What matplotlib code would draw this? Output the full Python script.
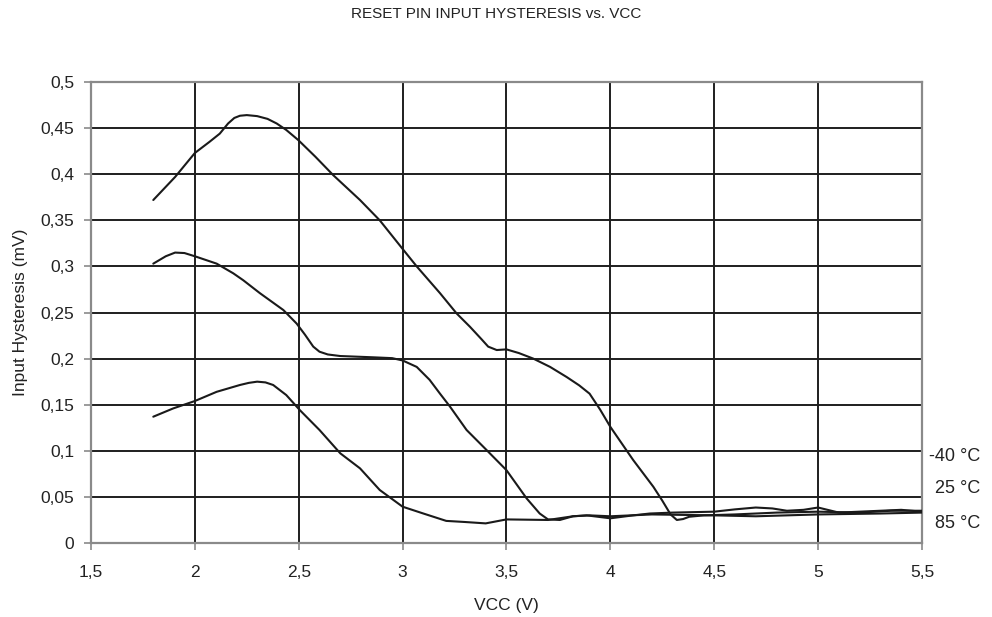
import matplotlib
matplotlib.use('Agg')
import matplotlib.pyplot as plt
from matplotlib.ticker import FuncFormatter

plt.rcParams['font.family'] = ['Liberation Sans', 'DejaVu Sans']

# -40 C curve
vcc_m40 = [1.80, 1.905, 2.0, 2.07, 2.12, 2.16, 2.19, 2.217, 2.25, 2.30, 2.35, 2.394, 2.44, 2.498,
           2.58, 2.666, 2.795, 2.89, 3.0, 3.068, 3.18, 3.26, 3.324, 3.38, 3.412, 3.453, 3.50,
           3.56, 3.629, 3.71, 3.79, 3.85, 3.90, 3.95, 4.0, 4.11, 4.207, 4.25, 4.29, 4.32, 4.35,
           4.38, 4.45, 4.6, 4.8, 5.0, 5.2, 5.35, 5.5]
hyst_m40 = [0.372, 0.397, 0.423, 0.435, 0.444, 0.455, 0.461, 0.4634, 0.4641, 0.463, 0.460, 0.455,
            0.448, 0.437, 0.419, 0.399, 0.372, 0.350, 0.319, 0.300, 0.271, 0.249, 0.2346, 0.221,
            0.213, 0.2093, 0.210, 0.206, 0.200, 0.191, 0.180, 0.171, 0.162, 0.145, 0.126, 0.090,
            0.061, 0.046, 0.031, 0.025, 0.026, 0.0285, 0.030, 0.031, 0.033, 0.034, 0.033, 0.035, 0.035]

# 25 C curve
vcc_25 = [1.80, 1.86, 1.905, 1.95, 2.0, 2.105, 2.185, 2.233, 2.313, 2.426, 2.49, 2.53, 2.57,
          2.60, 2.64, 2.70, 2.86, 2.95, 3.0, 3.068, 3.13, 3.18, 3.228, 3.308, 3.404, 3.50,
          3.597, 3.66, 3.70, 3.757, 3.82, 3.886, 4.0, 4.11, 4.19, 4.3, 4.5, 4.6, 4.7, 4.78,
          4.85, 4.93, 5.0, 5.1, 5.3, 5.4, 5.5]
hyst_25 = [0.303, 0.311, 0.315, 0.3145, 0.311, 0.303, 0.2925, 0.285, 0.271, 0.2527, 0.238, 0.226,
           0.213, 0.2075, 0.2045, 0.2028, 0.2014, 0.2005, 0.198, 0.191, 0.177, 0.162, 0.148, 0.1226,
           0.1009, 0.079, 0.0484, 0.032, 0.0256, 0.025, 0.029, 0.030, 0.0268, 0.030, 0.032, 0.033,
           0.034, 0.0365, 0.0385, 0.0375, 0.035, 0.036, 0.0385, 0.033, 0.035, 0.036, 0.034]

# 85 C curve
vcc_85 = [1.80, 1.896, 2.0, 2.105, 2.217, 2.26, 2.30, 2.34, 2.377, 2.44, 2.506, 2.60, 2.70,
          2.795, 2.89, 3.0, 3.10, 3.21, 3.30, 3.40, 3.50, 3.70, 3.82, 3.9, 4.0, 4.2, 4.5, 4.7,
          5.0, 5.3, 5.5]
hyst_85 = [0.137, 0.146, 0.154, 0.164, 0.1714, 0.1737, 0.175, 0.1742, 0.1714, 0.1605, 0.144,
           0.1226, 0.0973, 0.081, 0.0575, 0.0394, 0.032, 0.024, 0.0228, 0.0213, 0.0256, 0.025,
           0.029, 0.030, 0.029, 0.031, 0.030, 0.029, 0.031, 0.032, 0.033]

curve_labels = ['-40 °C', '25 °C', '85 °C']
label_y = [0.0936, 0.0593, 0.0213]

x_ticks = [1.5, 2, 2.5, 3, 3.5, 4, 4.5, 5, 5.5]
y_ticks = [0, 0.05, 0.1, 0.15, 0.2, 0.25, 0.3, 0.35, 0.4, 0.45, 0.5]

text_col = '#222222'

fig = plt.figure(figsize=(9.92, 6.17), dpi=100)
ax = fig.add_axes([0.0917, 0.1199, 0.8377, 0.7472])

for xs, ys in [(vcc_m40, hyst_m40), (vcc_25, hyst_25), (vcc_85, hyst_85)]:
    ax.plot(xs, ys, color='#1a1a1a', linewidth=1.5, solid_joinstyle='round',
            solid_capstyle='round', zorder=3)

ax.set_xlim(1.5, 5.5)
ax.set_ylim(0, 0.5)
ax.set_xticks(x_ticks)
ax.set_yticks(y_ticks)

# decimal comma, like the original
comma = FuncFormatter(lambda v, pos: ('%g' % v).replace('.', ','))
ax.xaxis.set_major_formatter(comma)
ax.yaxis.set_major_formatter(comma)

ax.grid(True, color='#1e1e1e', linewidth=1.4, zorder=1)
for side in ax.spines:
    ax.spines[side].set_color('#8a8a8a')
    ax.spines[side].set_linewidth(1.6)

ax.tick_params(axis='both', direction='out', length=5, width=1.2, color='#8a8a8a',
               labelsize=12.5, labelcolor=text_col, pad=7)
ax.tick_params(axis='x', pad=11)

ax.set_xlabel('VCC (V)', fontsize=12.5, color=text_col, labelpad=13)
ax.set_ylabel('Input Hysteresis (mV)', fontsize=12.5, color=text_col, labelpad=9)

fig.text(0.5, 0.978, 'RESET PIN INPUT HYSTERESIS vs. VCC', ha='center', va='center',
         fontsize=11, color=text_col)

for lab, yv in zip(curve_labels, label_y):
    ax.text(5.779, yv, lab, ha='right', va='center', fontsize=13, color=text_col, clip_on=False)

fig.savefig('out.png', dpi=100)
